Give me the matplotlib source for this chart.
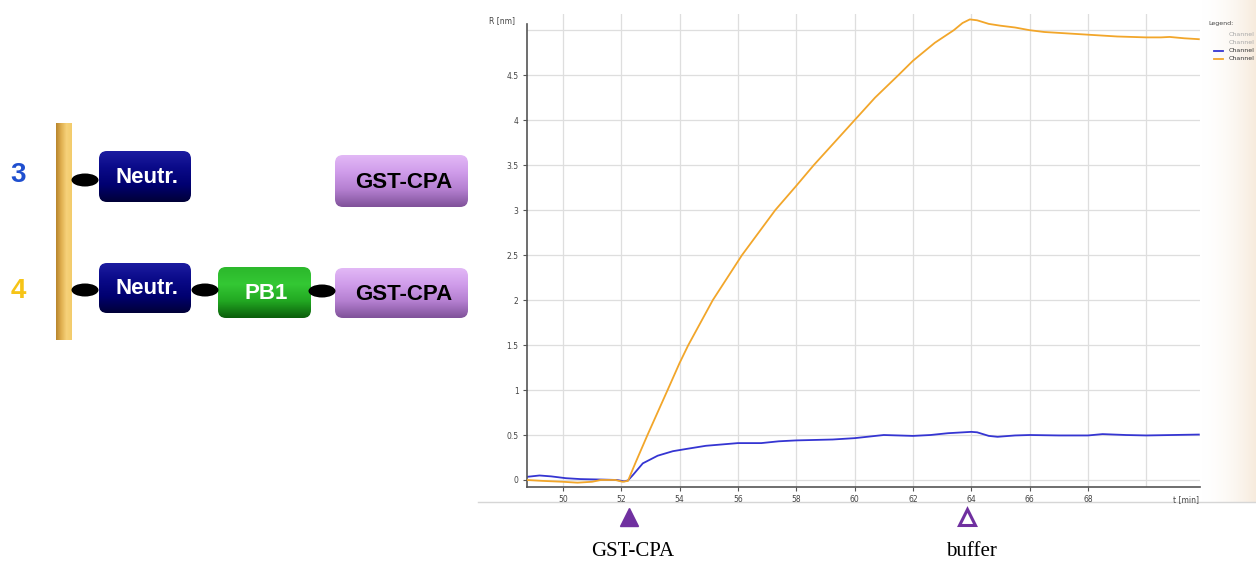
import numpy as np
import matplotlib
matplotlib.use("Agg")
import matplotlib.pyplot as plt
from matplotlib.patches import FancyBboxPatch, Ellipse
from matplotlib.colors import LinearSegmentedColormap
from matplotlib.transforms import blended_transform_factory

# ---- sensorgram data: time [min] and response R [nm] ----
orange_t = [48.77, 49.3, 50.0, 50.5, 51.0, 51.3, 51.8, 52.05, 52.23, 52.5, 52.9,
            53.59, 54.0, 54.3, 55.14, 56.14, 57.28, 58.0, 58.6, 59.3, 60.0, 60.7,
            61.5, 62.0, 62.75, 63.4, 63.7, 63.95, 64.2, 64.6, 65.0, 65.5, 66.0,
            66.5, 67.0, 68.0, 68.5, 69.0, 70.0, 70.5, 70.8, 71.3, 71.8]
orange_r = [0.00, -0.01, -0.02, -0.03, -0.02, 0.00, 0.00, -0.02, -0.01, 0.20, 0.50,
            1.00, 1.30, 1.50, 2.00, 2.50, 3.00, 3.27, 3.50, 3.75, 4.00, 4.25,
            4.50, 4.66, 4.86, 5.00, 5.08, 5.12, 5.11, 5.07, 5.05, 5.03, 5.00,
            4.98, 4.97, 4.95, 4.94, 4.93, 4.92, 4.92, 4.925, 4.91, 4.90]

blue_t = [48.77, 49.2, 49.6, 50.1, 50.6, 51.3, 51.85, 52.1, 52.23, 52.4, 52.74,
          53.25, 53.77, 54.23, 54.9, 56.0, 56.8, 57.4, 58.0, 59.25, 60.0, 61.0,
          62.0, 62.6, 63.2, 64.0, 64.2, 64.6, 64.9, 65.5, 66.0, 67.0, 68.0,
          68.5, 69.3, 70.0, 70.9, 71.8]
blue_r = [0.035, 0.05, 0.04, 0.02, 0.01, 0.005, 0.0, -0.015, -0.005, 0.055, 0.185,
          0.27, 0.32, 0.345, 0.38, 0.41, 0.41, 0.43, 0.44, 0.45, 0.465, 0.50,
          0.49, 0.50, 0.52, 0.535, 0.53, 0.49, 0.48, 0.495, 0.50, 0.495, 0.495,
          0.51, 0.50, 0.495, 0.50, 0.505]

x_ticks = [50, 52, 54, 56, 58, 60, 62, 64, 66, 68]
x_grid = [50, 52, 54, 56, 58, 60, 62, 64, 66, 68, 70]
y_ticks = [0, 0.5, 1, 1.5, 2, 2.5, 3, 3.5, 4, 4.5]
y_tick_labels = ["0", "0.5", "1", "1.5", "2", "2.5", "3", "3.5", "4", "4.5"]
y_grid = [0, 0.5, 1, 1.5, 2, 2.5, 3, 3.5, 4, 4.5, 5]

injections = [52.25, 63.85]
injection_labels = ["GST-CPA", "buffer"]
legend_entries = ["Channel", "Channel", "Channel", "Channel"]

ORANGE = "#f2a62a"
BLUE = "#3535d2"
PURPLE = "#7030a0"

W, H = 1256, 562
fig = plt.figure(figsize=(W / 100, H / 100), dpi=100)
fig.patch.set_facecolor("white")

# ---- background canvas in pixel coordinates (schematic + side panel) ----
bg = fig.add_axes([0, 0, 1, 1], zorder=0)
bg.set_xlim(0, W)
bg.set_ylim(H, 0)
bg.axis("off")

# soft beige tint along the right edge behind the legend
tint = LinearSegmentedColormap.from_list("tint", ["#ffffff", "#f7ebdd"])
grad = np.linspace(0, 1, 200)[None, :] ** 1.8
bg.imshow(grad, cmap=tint, extent=[1200, W, 502, 0], aspect="auto",
          origin="upper", zorder=0)
bg.plot([478, W], [502, 502], color="#d6d6d6", lw=1.0, zorder=1)


def gradient_box(x0, y0, x1, y1, colors, label, text_color, fs):
    cmap = LinearSegmentedColormap.from_list("b", colors)
    patch = FancyBboxPatch((x0, y0), x1 - x0, y1 - y0,
                           boxstyle="round,pad=0,rounding_size=8",
                           facecolor="none", edgecolor="none", zorder=3)
    bg.add_patch(patch)
    img = bg.imshow(np.linspace(0, 1, 100)[:, None], cmap=cmap,
                    extent=[x0, x1, y1, y0], aspect="auto", origin="upper",
                    zorder=2)
    img.set_clip_path(patch)
    bg.text((x0 + x1) / 2 + 2, (y0 + y1) / 2 + 1, label, color=text_color,
            fontsize=fs, fontweight="bold", family="Liberation Sans",
            ha="center", va="center", zorder=4)


def linker(cx, cy):
    bg.add_patch(Ellipse((cx, cy), 27, 13, facecolor="black",
                         edgecolor="none", zorder=5))


# gold sensor surface
gold = LinearSegmentedColormap.from_list("gold", ["#b8862e", "#e0b050", "#f6d27a", "#f3cc6c"])
bg.imshow(np.linspace(0, 1, 50)[None, :], cmap=gold,
          extent=[56, 72, 340, 123], aspect="auto", origin="upper", zorder=2)

NAVY = ["#1c1ca0", "#0a0a88", "#000070", "#000038"]
GREEN = ["#2cb82c", "#34c834", "#22a822", "#0b5e0b"]
LILAC = ["#e2b8f6", "#cf9cea", "#b47fd0", "#80529a"]

# channel 3
bg.text(18, 175, "3", color="#1f4fcf", fontsize=20, fontweight="bold",
        family="Liberation Sans", ha="center", va="center")
linker(85, 180)
gradient_box(99, 151, 191, 202, NAVY, "Neutr.", "white", 16)
gradient_box(335, 155, 468, 207, LILAC, "GST-CPA", "black", 16)

# channel 4
bg.text(18, 291, "4", color="#f6c417", fontsize=20, fontweight="bold",
        family="Liberation Sans", ha="center", va="center")
linker(85, 290)
gradient_box(99, 263, 191, 313, NAVY, "Neutr.", "white", 16)
linker(205, 290)
gradient_box(218, 267, 311, 318, GREEN, "PB1", "white", 16)
linker(322, 291)
gradient_box(335, 268, 468, 318, LILAC, "GST-CPA", "black", 16)

# ---- sensorgram ----
ax = fig.add_axes([527 / W, 1 - 487 / H, (1200 - 527) / W, (487 - 14) / H], zorder=2)
ax.set_facecolor("white")
ax.set_xlim(48.77, 71.84)
ax.set_ylim(-0.078, 5.18)

for gx in x_grid:
    ax.axvline(gx, color="#dedede", lw=0.9, zorder=0)
for gy in y_grid:
    ax.axhline(gy, color="#dedede", lw=0.9, zorder=0)

ax.plot(orange_t, orange_r, color=ORANGE, lw=1.3, zorder=3)
ax.plot(blue_t, blue_r, color=BLUE, lw=1.3, zorder=2)

for s in ["top", "right"]:
    ax.spines[s].set_visible(False)
for s in ["left", "bottom"]:
    ax.spines[s].set_color("#555555")
    ax.spines[s].set_linewidth(1.2)
ax.spines["left"].set_bounds(-0.078, 5.07)

ax.set_xticks(x_ticks)
ax.set_xticklabels([str(v) for v in x_ticks])
ax.set_yticks(y_ticks)
ax.set_yticklabels(y_tick_labels)
ax.tick_params(axis="both", direction="out", length=3, width=0.8,
               colors="#555555", labelsize=5.5, labelcolor="#444444", pad=3)

ax.text(-0.018, 0.985, "R [nm]", transform=ax.transAxes,
        ha="right", va="center", fontsize=5.5, color="#444444")
ax.text(71.35, -0.168, "t [min]", ha="center", va="top", fontsize=5.5,
        color="#444444", clip_on=False)

# legend panel
fig.text(1208 / W, 1 - 24 / H, "Legend:", fontsize=4.5, color="#444444",
         ha="left", va="center")
legend_colors = [None, None, BLUE, ORANGE]
legend_text_colors = ["#a8a8a8", "#a8a8a8", "#333333", "#333333"]
for i, (name, lc, tc) in enumerate(zip(legend_entries, legend_colors, legend_text_colors)):
    yy = [35, 42, 51, 59][i]
    if lc is not None:
        bg.plot([1214, 1223], [yy, yy], color=lc, lw=1.3, zorder=3)
    bg.text(1229, yy, name, fontsize=4.5, color=tc, ha="left", va="center", zorder=3)

# injection markers under the time axis
tr = blended_transform_factory(ax.transData, fig.transFigure)
ax.plot([injections[0]], [1 - 517 / H], marker="^", ms=13.5, color=PURPLE,
        mec=PURPLE, transform=tr, clip_on=False, ls="none")
ax.plot([injections[1]], [1 - 517 / H], marker="^", ms=12, mfc="white",
        mec=PURPLE, mew=2.2, transform=tr, clip_on=False, ls="none")
for tx, lab in zip(injections, injection_labels):
    ax.text(tx + 0.15, 1 - 551 / H, lab, transform=tr, ha="center", va="center",
            fontsize=15, family="Liberation Serif", color="black", clip_on=False)

fig.savefig("out.png", dpi=100)
